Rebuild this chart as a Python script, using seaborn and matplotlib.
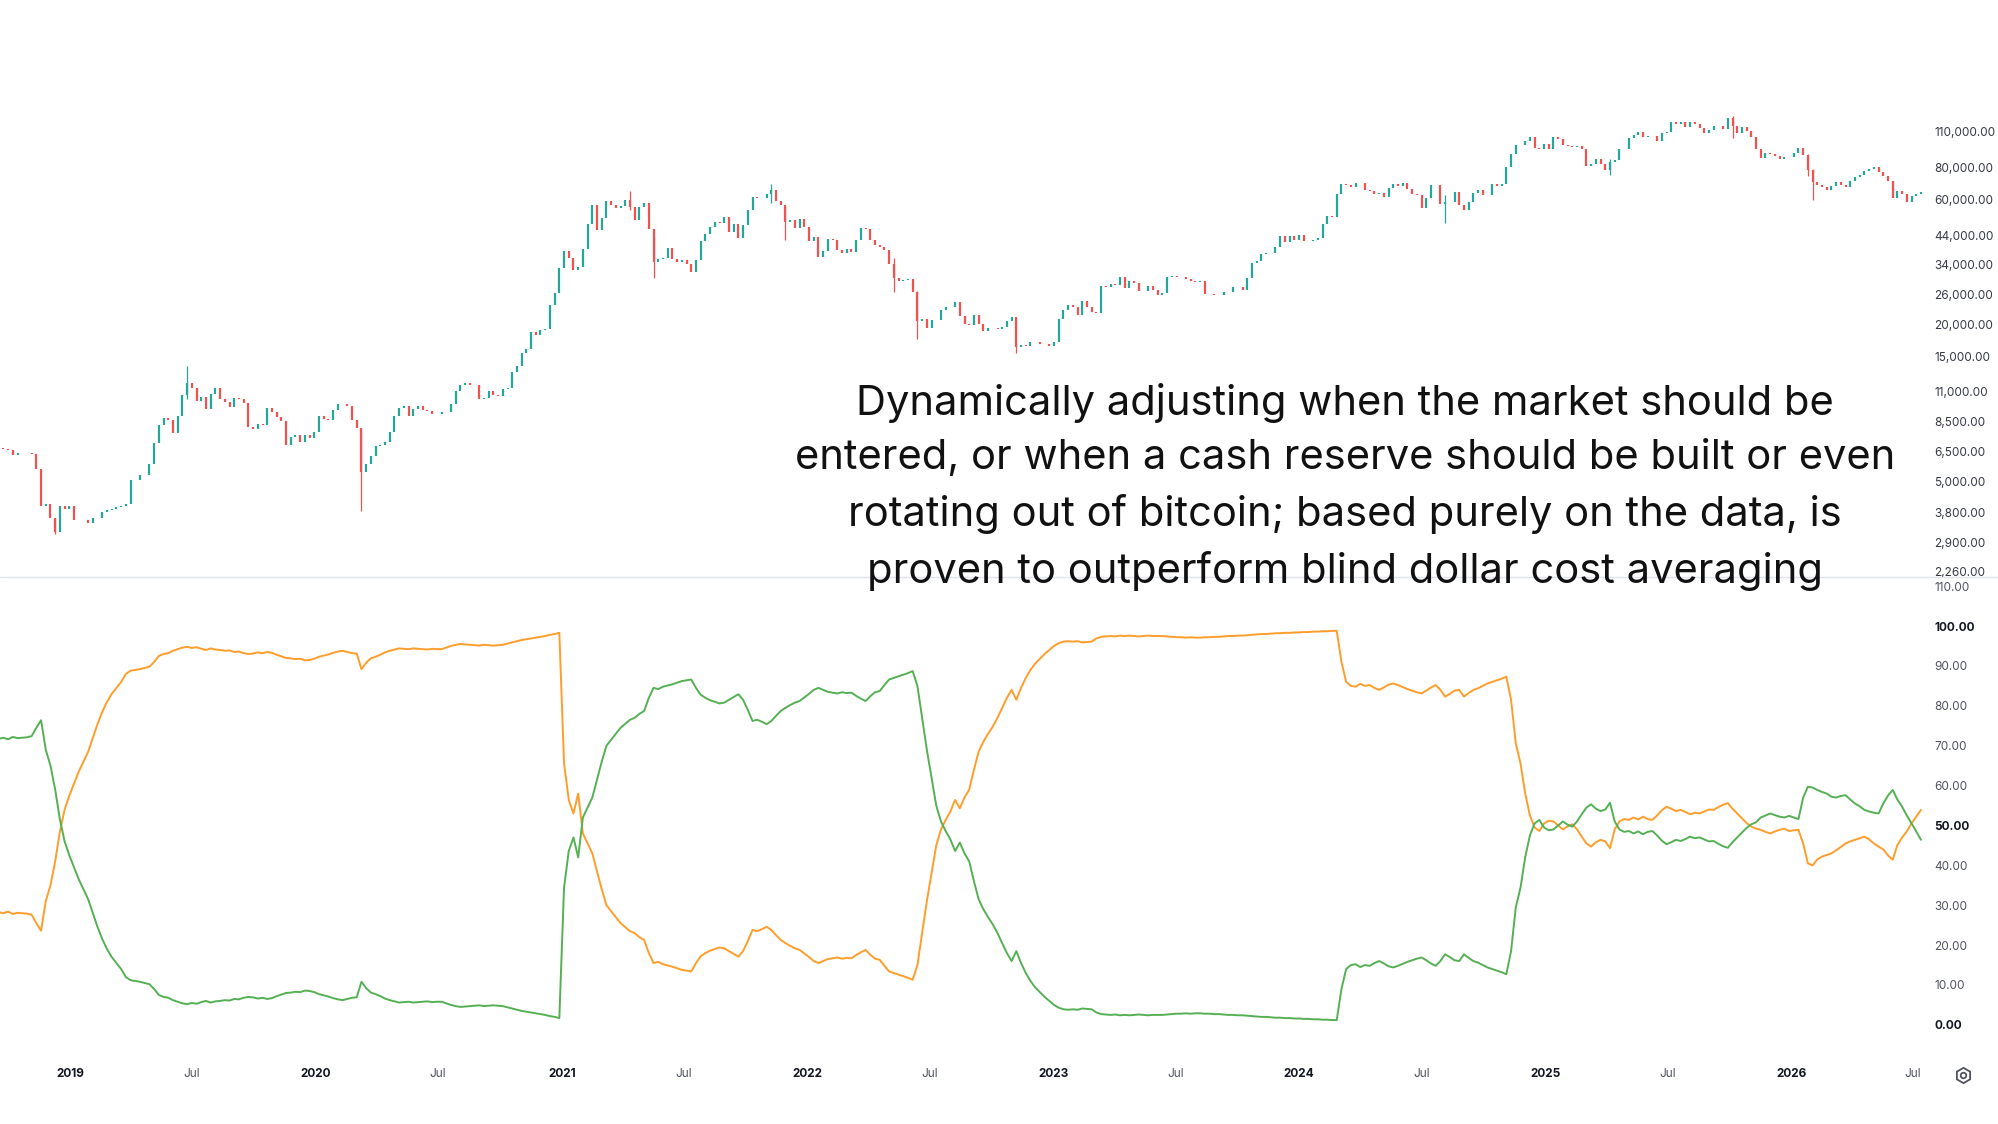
import matplotlib
matplotlib.use("Agg")
import matplotlib.pyplot as plt
from matplotlib.lines import Line2D
import seaborn as sns
import pandas as pd
import numpy as np

sns.set_theme(style="white")
plt.rcParams['font.family'] = ['Inter', 'DejaVu Sans']

# --- weekly BTC closes (USD), one value per week starting 2018-09-17 ---
close_2018 = [6700, 6630, 6570, 6300, 6420, 6400, 6400, 6350, 5580, 4000, 4100, 3600, 3200, 4000, 3900, 4000]
close_2019 = [3550, 3550, 3540, 3450, 3620, 3610, 3800, 3860, 3900, 3980, 4000, 4100, 5050,
              5050, 5280, 5280, 5800, 7000, 8200, 8750, 8550, 7650, 8900, 10700, 11900, 11400,
              10200, 10500, 9500, 10800, 11400, 10300, 10100, 9600, 10400, 10300, 10000, 8100, 7900,
              8300, 8200, 9550, 9200, 8800, 8500, 6900, 7400, 7500, 7100, 7500, 7300, 7750]
close_2020 = [8900, 8700, 8600, 9350, 9900, 9900, 9700, 8550, 8000, 5400, 5800, 6250, 6800,
              6900, 7100, 7700, 8900, 9550, 9700, 8900, 9450, 9700, 9400, 9300, 9050, 9050,
              9250, 9200, 9900, 11100, 11700, 11900, 11650, 11700, 10300, 10450, 11100, 10700, 10650,
              11300, 11400, 13100, 13800, 15500, 16050, 18700, 18200, 19100, 19200, 23800, 26400, 33000]
close_2021 = [38200, 36000, 32300, 33100, 38900, 48600, 57500, 46200, 51000, 59300, 57500, 55800, 57100,
              59800, 56200, 50100, 56600, 58200, 46400, 34700, 35700, 35800, 39100, 35500, 34700, 35300,
              34200, 31800, 35400, 41600, 44400, 47100, 49300, 48800, 51800, 45200, 48300, 42700, 48200,
              54700, 61500, 61300, 61300, 63300, 65500, 59700, 57200, 49400, 50100, 46700, 50800, 47300]
close_2022 = [41900, 43100, 36300, 38200, 42400, 42200, 38400, 37700, 38800, 37800, 42200, 46800, 46400,
              42200, 40400, 39500, 38500, 34100, 30100, 29400, 29500, 29900, 26600, 20500, 21000, 19300,
              20800, 20800, 22600, 23300, 23200, 24300, 21500, 20000, 19800, 21800, 20100, 18800, 19300,
              19400, 19200, 19600, 20600, 21300, 16300, 16700, 16500, 17100, 17100, 16800, 16800, 16550]
close_2023 = [17100, 20900, 22700, 23700, 23300, 21800, 24600, 23200, 22300, 22100, 28000, 27900, 28500,
              28300, 30300, 27600, 29200, 28900, 26800, 26900, 28100, 27100, 25900, 26300, 30500, 30600,
              30300, 30300, 29900, 29300, 29100, 29400, 26100, 26100, 25900, 25800, 26600, 26500, 27900,
              27900, 27100, 30000, 34500, 35000, 37100, 37400, 37400, 39500, 43800, 41400, 43700, 42300]
close_2024 = [43900, 41800, 41600, 42000, 43000, 48300, 52100, 51700, 63100, 68900, 68400, 67200, 69700,
              69400, 65700, 64900, 63100, 63900, 61500, 66900, 69300, 67800, 69600, 66200, 63200, 62700,
              55800, 60800, 68200, 68200, 58100, 58700, 59000, 64200, 57300, 54800, 59100, 63600, 65600,
              62800, 62900, 69000, 67900, 68800, 80400, 89800, 97700, 97200, 101100, 104500, 95100, 93700,
              98300]
close_2025 = [94500, 104500, 102600, 97700, 96500, 96100, 96300, 94200, 80700, 82600, 86100, 82300, 78300,
              83700, 85200, 93700, 94300, 104000, 106500, 109000, 104600, 105700, 105500, 100900, 108400, 109200,
              119100, 117300, 119400, 114200, 119300, 117400, 113500, 108300, 111100, 115300, 115300, 112200,
              123500, 115000, 108600, 114500, 110600, 104700, 94000, 86800, 90500, 90000, 88500, 86000, 87500,
              88000]
close_2026 = [91000, 95000, 89500, 78000, 70000, 68500, 67000, 65500, 68000, 70500, 68500, 67000, 71000,
              73500, 75000, 77500, 79000, 80000, 77000, 74000, 71000, 61000, 65000, 63000, 59000, 62000,
              63500, 64500]
first_open = 6500

# weeks with long wicks
wick_weeks = ['2018-12-10', '2019-06-24', '2020-03-09', '2021-04-12', '2021-05-17', '2021-11-08',
              '2021-11-29', '2022-05-09', '2022-06-13', '2022-11-07', '2024-08-05', '2025-04-07',
              '2025-10-06', '2026-01-26', '2026-02-02']
wick_low = [3150, 10300, 3850, 55000, 30000, 58500, 42000, 26700, 17600, 15500, 49000, 74500,
            104000, 74000, 60000]
wick_high = [3600, 13800, 8000, 64800, 43000, 69000, 57400, 36000, 26800, 21400, 62700, 86000,
             126000, 90000, 79000]

# --- allocation (%): cash (orange) and bitcoin (green) ---
cash_2018 = [28.3, 28.0, 28.4, 27.8, 28.1, 28.0, 27.9, 27.6, 25.5, 23.6, 31.0, 35.0, 41.0, 48.5, 54.0, 57.5]
cash_2019 = [60.5, 63.5, 66.0, 68.5, 72.0, 75.5, 78.5, 81.0, 83.0, 84.5, 86.0, 88.0, 88.8,
             89.0, 89.2, 89.5, 89.8, 91.0, 92.5, 93.0, 93.2, 93.8, 94.2, 94.6, 94.8, 94.5,
             94.7, 94.3, 94.0, 94.4, 94.1, 94.0, 93.8, 93.9, 93.5, 93.6, 93.2, 93.0, 93.1,
             93.4, 93.2, 93.5, 93.3, 92.8, 92.4, 92.0, 91.9, 91.7, 91.8, 91.4, 91.5, 91.8]
cash_2020 = [92.3, 92.6, 92.9, 93.3, 93.6, 93.8, 93.5, 93.2, 93.1, 89.2, 90.8, 91.9, 92.3,
             92.8, 93.4, 93.8, 94.1, 94.4, 94.3, 94.2, 94.4, 94.3, 94.2, 94.1, 94.3, 94.2,
             94.2, 94.6, 95.0, 95.3, 95.5, 95.4, 95.3, 95.2, 95.1, 95.3, 95.2, 95.1, 95.2,
             95.3, 95.6, 95.9, 96.2, 96.5, 96.7, 96.9, 97.1, 97.3, 97.5, 97.8, 98.0, 98.3]
cash_2021 = [65.6, 56.4, 53.0, 58.0, 48.0, 45.5, 43.0, 38.5, 34.0, 30.0, 28.5, 27.0, 25.5,
             24.5, 23.5, 23.0, 22.0, 21.3, 18.0, 15.5, 15.8, 15.2, 14.9, 14.6, 14.2, 13.8,
             13.6, 13.4, 15.5, 17.2, 18.0, 18.6, 19.0, 19.4, 19.2, 18.5, 17.8, 17.1, 18.5,
             21.0, 23.8, 23.5, 24.0, 24.6, 23.8, 22.5, 21.3, 20.5, 19.8, 19.2, 18.8, 17.9]
cash_2022 = [17.0, 16.0, 15.5, 16.0, 16.5, 16.7, 16.9, 16.6, 16.8, 16.7, 17.5, 18.2, 18.8,
             17.6, 16.6, 16.3, 14.8, 13.4, 13.0, 12.6, 12.2, 11.8, 11.3, 15.0, 23.0, 31.0,
             38.0, 45.0, 49.0, 51.4, 53.5, 56.4, 54.3, 57.0, 59.0, 64.0, 68.5, 71.0, 73.0,
             74.8, 77.0, 79.5, 82.0, 84.0, 81.5, 84.5, 87.0, 89.0, 90.6, 91.8, 93.0, 94.0]
cash_2023 = [95.0, 95.7, 96.1, 96.2, 96.1, 96.2, 95.9, 96.0, 96.1, 96.9, 97.3, 97.4, 97.5,
             97.4, 97.6, 97.5, 97.6, 97.5, 97.4, 97.5, 97.6, 97.5, 97.5, 97.5, 97.4, 97.3,
             97.2, 97.2, 97.1, 97.2, 97.1, 97.1, 97.2, 97.2, 97.3, 97.3, 97.4, 97.5, 97.5,
             97.6, 97.6, 97.7, 97.8, 97.9, 98.0, 98.0, 98.1, 98.2, 98.2, 98.3, 98.3, 98.4]
cash_2024 = [98.4, 98.5, 98.5, 98.6, 98.6, 98.7, 98.7, 98.8, 98.8, 91.0, 86.0, 85.0, 84.8,
             85.5, 85.0, 85.2, 84.5, 84.0, 84.6, 85.3, 85.6, 85.2, 84.7, 84.2, 83.8, 83.4,
             83.1, 83.8, 84.6, 85.2, 84.0, 82.3, 83.0, 83.8, 84.0, 82.3, 83.2, 84.0, 84.4,
             85.0, 85.6, 86.0, 86.4, 86.8, 87.3, 81.5, 70.6, 65.6, 58.0, 52.5, 49.5, 48.6,
             50.5]
cash_2025 = [51.2, 51.0, 50.0, 49.0, 49.8, 50.3, 49.0, 47.2, 45.5, 44.7, 45.8, 46.4, 46.0,
             44.3, 49.0, 51.0, 51.6, 51.4, 52.0, 51.5, 52.2, 51.6, 51.4, 52.5, 53.8, 54.7,
             54.2, 53.6, 53.9, 53.4, 52.8, 53.2, 53.0, 53.5, 54.0, 53.9, 54.6, 55.2, 55.6,
             54.2, 53.0, 51.8, 50.6, 49.7, 49.2, 48.9, 48.4, 48.0, 48.5, 48.9, 49.2, 48.6]
cash_2026 = [48.8, 48.9, 45.5, 40.5, 40.0, 41.5, 42.2, 42.6, 43.0, 43.8, 44.6, 45.5, 46.0,
             46.4, 46.8, 47.2, 46.5, 45.5, 44.7, 44.0, 42.5, 41.4, 45.1, 47.0, 48.5, 50.5,
             52.2, 53.9]

btc_2018 = [71.7, 72.0, 71.6, 72.2, 71.9, 72.0, 72.1, 72.4, 74.5, 76.4, 69.0, 65.0, 59.0, 51.5, 46.0, 42.5]
btc_2019 = [39.5, 36.5, 34.0, 31.5, 28.0, 24.5, 21.5, 19.0, 17.0, 15.5, 14.0, 12.0, 11.2,
            11.0, 10.8, 10.5, 10.2, 9.0, 7.5, 7.0, 6.8, 6.2, 5.8, 5.4, 5.2, 5.5,
            5.3, 5.7, 6.0, 5.6, 5.9, 6.0, 6.2, 6.1, 6.5, 6.4, 6.8, 7.0, 6.9,
            6.6, 6.8, 6.5, 6.7, 7.2, 7.6, 8.0, 8.1, 8.3, 8.2, 8.6, 8.5, 8.2]
btc_2020 = [7.7, 7.4, 7.1, 6.7, 6.4, 6.2, 6.5, 6.8, 6.9, 10.8, 9.2, 8.1, 7.7,
            7.2, 6.6, 6.2, 5.9, 5.6, 5.7, 5.8, 5.6, 5.7, 5.8, 5.9, 5.7, 5.8,
            5.8, 5.4, 5.0, 4.7, 4.5, 4.6, 4.7, 4.8, 4.9, 4.7, 4.8, 4.9, 4.8,
            4.7, 4.4, 4.1, 3.8, 3.5, 3.3, 3.1, 2.9, 2.7, 2.5, 2.2, 2.0, 1.7]
btc_2021 = [34.4, 43.6, 47.0, 42.0, 52.0, 54.5, 57.0, 61.5, 66.0, 70.0, 71.5, 73.0, 74.5,
            75.5, 76.5, 77.0, 78.0, 78.7, 82.0, 84.5, 84.2, 84.8, 85.1, 85.4, 85.8, 86.2,
            86.4, 86.6, 84.5, 82.8, 82.0, 81.4, 81.0, 80.6, 80.8, 81.5, 82.2, 82.9, 81.5,
            79.0, 76.2, 76.5, 76.0, 75.4, 76.2, 77.5, 78.7, 79.5, 80.2, 80.8, 81.2, 82.1]
btc_2022 = [83.0, 84.0, 84.5, 84.0, 83.5, 83.3, 83.1, 83.4, 83.2, 83.3, 82.5, 81.8, 81.2,
            82.4, 83.4, 83.7, 85.2, 86.6, 87.0, 87.4, 87.8, 88.2, 88.7, 85.0, 77.0, 69.0,
            62.0, 55.0, 51.0, 48.6, 46.5, 43.6, 45.7, 43.0, 41.0, 36.0, 31.5, 29.0, 27.0,
            25.2, 23.0, 20.5, 18.0, 16.0, 18.5, 15.5, 13.0, 11.0, 9.4, 8.2, 7.0, 6.0]
btc_2023 = [5.0, 4.3, 3.9, 3.8, 3.9, 3.8, 4.1, 4.0, 3.9, 3.1, 2.7, 2.6, 2.5,
            2.6, 2.4, 2.5, 2.4, 2.5, 2.6, 2.5, 2.4, 2.5, 2.5, 2.5, 2.6, 2.7,
            2.8, 2.8, 2.9, 2.8, 2.9, 2.9, 2.8, 2.8, 2.7, 2.7, 2.6, 2.5, 2.5,
            2.4, 2.4, 2.3, 2.2, 2.1, 2.0, 2.0, 1.9, 1.8, 1.8, 1.7, 1.7, 1.6]
btc_2024 = [1.6, 1.5, 1.5, 1.4, 1.4, 1.3, 1.3, 1.2, 1.2, 9.0, 14.0, 15.0, 15.2,
            14.5, 15.0, 14.8, 15.5, 16.0, 15.4, 14.7, 14.4, 14.8, 15.3, 15.8, 16.2, 16.6,
            16.9, 16.2, 15.4, 14.8, 16.0, 17.7, 17.0, 16.2, 16.0, 17.7, 16.8, 16.0, 15.6,
            15.0, 14.4, 14.0, 13.6, 13.2, 12.7, 18.5, 29.4, 34.4, 42.0, 47.5, 50.5, 51.4,
            49.5]
btc_2025 = [48.8, 49.0, 50.0, 51.0, 50.2, 49.7, 51.0, 52.8, 54.5, 55.3, 54.2, 53.6, 54.0,
            55.7, 51.0, 49.0, 48.4, 48.6, 48.0, 48.5, 47.8, 48.4, 48.6, 47.5, 46.2, 45.3,
            45.8, 46.4, 46.1, 46.6, 47.2, 46.8, 47.0, 46.5, 46.0, 46.1, 45.4, 44.8, 44.4,
            45.8, 47.0, 48.2, 49.4, 50.3, 50.8, 52.0, 52.5, 53.0, 52.6, 52.2, 52.0, 52.4]
btc_2026 = [52.0, 51.6, 57.0, 59.7, 59.5, 58.9, 58.4, 58.0, 57.2, 57.0, 57.4, 57.6, 56.5,
            55.5, 54.8, 53.9, 53.5, 53.2, 53.0, 55.5, 57.5, 58.9, 56.5, 54.7, 52.5, 50.5,
            48.5, 46.4]

price_ticks = [2260, 2900, 3800, 5000, 6500, 8500, 11000, 15000, 20000, 26000,
               34000, 44000, 60000, 80000, 110000]
alloc_ticks = [0, 10, 20, 30, 40, 50, 60, 70, 80, 90, 100, 110]
bold_alloc = [0, 50, 100]
years = [2019, 2020, 2021, 2022, 2023, 2024, 2025, 2026]

note = ("Dynamically adjusting when the market should be\n"
        "entered, or when a cash reserve should be built or even\n"
        "rotating out of bitcoin; based purely on the data, is\n"
        "proven to outperform blind dollar cost averaging")

# --- assemble ---
close = (close_2018 + close_2019 + close_2020 + close_2021 + close_2022 +
         close_2023 + close_2024 + close_2025 + close_2026)
cash = (cash_2018 + cash_2019 + cash_2020 + cash_2021 + cash_2022 +
        cash_2023 + cash_2024 + cash_2025 + cash_2026)
btc = (btc_2018 + btc_2019 + btc_2020 + btc_2021 + btc_2022 +
       btc_2023 + btc_2024 + btc_2025 + btc_2026)

df = pd.DataFrame({'week': pd.date_range('2018-09-17', periods=len(close), freq='7D'),
                   'close': close, 'cash': cash, 'btc': btc})
df['open'] = [first_open] + close[:-1]
df['up'] = df['close'] >= df['open']

UP, DOWN = '#26a69a', '#ef5350'
W, H = 1999, 1124
fig = plt.figure(figsize=(W / 100, H / 100), dpi=100)
fig.patch.set_facecolor('white')

sep = 577
ax_top = fig.add_axes([0, 1 - sep / H, 1925 / W, sep / H])
ax_bot = fig.add_axes([0, 1 - 1050 / H, 1925 / W, (1050 - sep) / H], sharex=ax_top)

# --- candles ---
lo = df[['open', 'close']].min(axis=1)
hi = df[['open', 'close']].max(axis=1)
colors = np.where(df['up'], UP, DOWN)
ax_top.vlines(df['week'], lo, hi, colors=colors, linewidth=1.6)
wk = df.set_index('week')
wd = pd.to_datetime(wick_weeks)
wcol = [UP if wk.loc[d, 'up'] else DOWN for d in wd]
ax_top.vlines(wd, wick_low, wick_high, colors=wcol, linewidth=0.9)

ax_top.set_yscale('log')
ax_top.set_ylim(2145, 351000)
ax_top.yaxis.tick_right()
ax_top.set_yticks(price_ticks)
ax_top.set_yticklabels([f"{v:,.2f}" for v in price_ticks])
ax_top.yaxis.set_minor_locator(matplotlib.ticker.NullLocator())
ax_top.tick_params(axis='y', length=0, pad=6.5, labelsize=8.5, labelcolor='#363a45')
ax_top.tick_params(axis='x', bottom=False, labelbottom=False)

# --- allocation lines ---
sns.lineplot(data=df, x='week', y='cash', color='#ff9d2b', linewidth=1.4, ax=ax_bot)
sns.lineplot(data=df, x='week', y='btc', color='#55b054', linewidth=1.4, ax=ax_bot)
ax_bot.set_ylim(-6.3, 112.3)
ax_bot.yaxis.tick_right()
ax_bot.set_yticks(alloc_ticks)
ax_bot.set_yticklabels([f"{v:.2f}" for v in alloc_ticks])
ax_bot.tick_params(axis='y', length=0, pad=6.5, labelsize=8.5, labelcolor='#50535e')
for v, lab in zip(alloc_ticks, ax_bot.get_yticklabels()):
    if v in bold_alloc:
        lab.set_fontweight('bold')
        lab.set_color('#131722')
ax_bot.set_xlabel('')
ax_bot.set_ylabel('')

xt, xl = [], []
for y in years:
    xt += [pd.Timestamp(f'{y}-01-01'), pd.Timestamp(f'{y}-07-01')]
    xl += [str(y), 'Jul']
ax_bot.set_xticks(xt)
ax_bot.set_xticklabels(xl)
ax_bot.tick_params(axis='x', length=0, pad=13, labelsize=8.5, labelcolor='#50535e')
for lab in ax_bot.get_xticklabels():
    if lab.get_text() != 'Jul':
        lab.set_fontweight('bold')
        lab.set_color('#131722')
ax_bot.set_xlim(pd.Timestamp('2018-09-19'), pd.Timestamp('2026-07-19'))

for ax in (ax_top, ax_bot):
    ax.set_facecolor('none')
    ax.grid(False)
    for s in ax.spines.values():
        s.set_visible(False)

# pane separator
fig.add_artist(Line2D([0, 1], [1 - sep / H] * 2, color='#e0e3eb', linewidth=1))

# settings icon
gx, gy = 1963 / W, 1 - 1075 / H
fig.add_artist(Line2D([gx], [gy], marker='h', markersize=11, markerfacecolor='none',
                      markeredgecolor='#50535e', markeredgewidth=1.3))
fig.add_artist(Line2D([gx], [gy], marker='o', markersize=4, markerfacecolor='none',
                      markeredgecolor='#50535e', markeredgewidth=1.3))

fig.text(1345 / W, 1 - 487 / H, note, ha='center', va='center', fontsize=30,
         linespacing=1.54, color='#111111', family=['Inter', 'DejaVu Sans'])

fig.savefig('out.png', dpi=100, facecolor='white')
